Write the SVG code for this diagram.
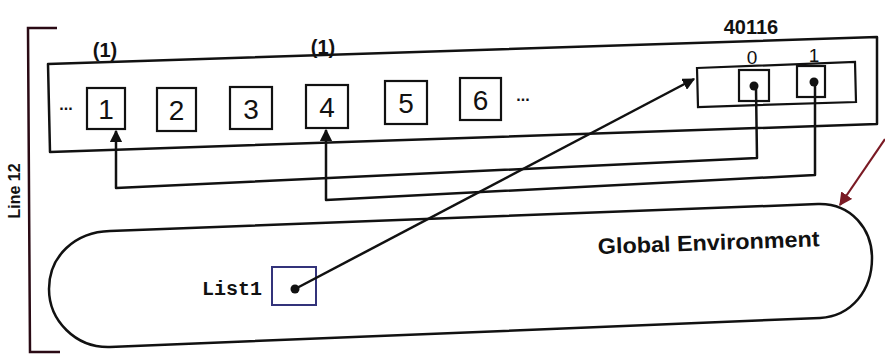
<svg xmlns="http://www.w3.org/2000/svg" width="885" height="360" viewBox="0 0 885 360">
<style>
.ln{fill:none;stroke:#111;stroke-width:2.5;stroke-linejoin:round}
.bx{fill:#fff;stroke:#111;stroke-width:2.2}
.num{font-family:"Liberation Sans",Arial,sans-serif;font-size:28px;fill:#111;text-anchor:middle}
.lbl{font-family:"Liberation Sans",Arial,sans-serif;font-weight:bold;fill:#111}
.idx{font-family:"Liberation Sans",Arial,sans-serif;font-size:19px;fill:#111;text-anchor:middle}
.dot{fill:#111}
</style>
<defs>
<marker id="ah" viewBox="0 0 10 10" refX="9" refY="5" markerWidth="5" markerHeight="5" orient="auto" markerUnits="strokeWidth">
<path d="M0,0 L10,5 L0,10 Z" fill="#111"/>
</marker>
<marker id="ahr" viewBox="0 0 10 10" refX="9" refY="5" markerWidth="6" markerHeight="6" orient="auto" markerUnits="strokeWidth">
<path d="M0,0 L10,5 L0,10 Z" fill="#7a1a24"/>
</marker>
</defs>
<rect width="885" height="360" fill="#fff"/>

<g id="bracket">
<path d="M57,28 L28,28 L30,352 L60,352" fill="none" stroke="#2a0a14" stroke-width="2.5"/>
<text class="lbl" font-size="16" transform="translate(20,191) rotate(-90)" text-anchor="middle">Line 12</text>
</g>

<g id="frame">
<polygon class="ln" points="48,64 877,37 877,124 50,152"/>
<text class="lbl" x="105" y="57" font-size="20" text-anchor="middle">(1)</text>
<text class="lbl" x="323" y="54" font-size="20" text-anchor="middle">(1)</text>
<text class="lbl" x="66" y="110" font-size="16" text-anchor="middle">...</text>
<text class="lbl" x="523" y="101" font-size="16" text-anchor="middle">...</text>
</g>

<g id="n1"><rect class="bx" x="87" y="88" width="38" height="41"/><text class="num" x="106" y="119">1</text></g>
<g id="n2"><rect class="bx" x="157" y="88" width="39" height="43"/><text class="num" x="176.5" y="120">2</text></g>
<g id="n3"><rect class="bx" x="230" y="87" width="42" height="42"/><text class="num" x="251" y="119">3</text></g>
<g id="n4"><rect class="bx" x="306" y="85" width="42" height="43"/><text class="num" x="327" y="117">4</text></g>
<g id="n5"><rect class="bx" x="385" y="81" width="42" height="43"/><text class="num" x="406" y="113">5</text></g>
<g id="n6"><rect class="bx" x="460" y="78" width="41" height="42"/><text class="num" x="480.5" y="110">6</text></g>

<g id="array">
<text class="lbl" x="751" y="34" font-size="20" text-anchor="middle">40116</text>
<polygon class="bx" points="697,68 855,62 856,102 698,107"/>
<rect class="bx" x="739" y="70" width="30" height="31"/>
<rect class="bx" x="797" y="66" width="28" height="31"/>
<text class="idx" x="752" y="64">0</text>
<text class="idx" x="814" y="62">1</text>
<circle class="dot" cx="754" cy="86" r="4.5"/>
<circle class="dot" cx="814" cy="82" r="4.5"/>
</g>

<g id="global">
<path class="ln" d="M110,231 L818,204 C852,203 872,230 872,258 C872,290 852,316 820,318 L110,347 C75,348 49,320 49,289 C49,256 75,232 110,231 Z"/>
<text class="lbl" x="598" y="254" font-size="22" textLength="222" lengthAdjust="spacingAndGlyphs" transform="rotate(-2 598 254)">Global Environment</text>
</g>

<g id="list1">
<text x="202" y="295" font-family="'Liberation Mono','Courier New',monospace" font-weight="bold" font-size="20" fill="#111">List1</text>
<rect x="272" y="267" width="44" height="38" fill="#fff" stroke="#33337a" stroke-width="2"/>
<circle class="dot" cx="295" cy="289" r="4.5"/>
</g>

<g id="connectors">
<path class="ln" d="M756,88 L757,158 L116,188 L116,131" marker-end="url(#ah)"/>
<path class="ln" d="M815,84 L815,175 L326,200 L326,130" marker-end="url(#ah)"/>
<path class="ln" d="M295,289 L694,79" marker-end="url(#ah)"/>
<path d="M885,139 L840,205" fill="none" stroke="#7a1a24" stroke-width="2.2" marker-end="url(#ahr)"/>
</g>
</svg>
